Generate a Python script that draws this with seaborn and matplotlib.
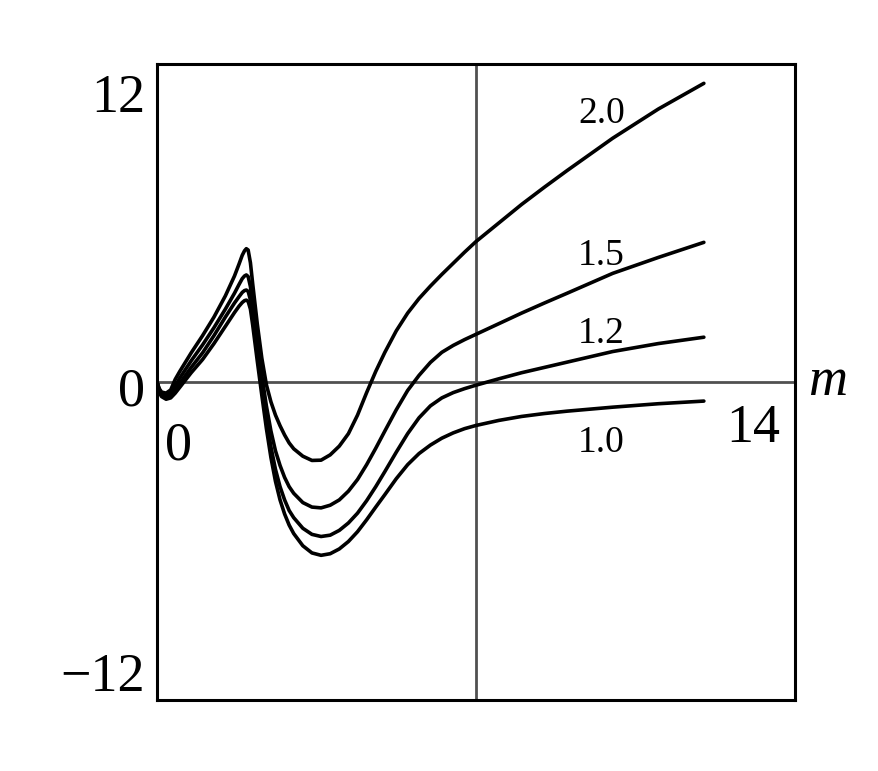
import matplotlib
matplotlib.use("Agg")
import matplotlib.pyplot as plt
import seaborn as sns
import pandas as pd

# sample points along m
m = [0, 0.05, 0.1, 0.2, 0.3, 0.4, 0.5, 0.75, 1.0, 1.25, 1.5, 1.7, 1.8, 1.87, 1.92, 1.96,
     2.0, 2.05, 2.1, 2.2, 2.3, 2.4, 2.5, 2.6, 2.7, 2.8, 2.9, 3.0, 3.2, 3.4, 3.6, 3.8,
     4.0, 4.2, 4.4, 4.6, 4.8, 5.0, 5.25, 5.5, 5.75, 6.0, 6.25, 6.5, 6.75, 7.0, 7.5,
     8.0, 8.5, 9.0, 10.0, 11.0, 12.0]

v_20 = [0, -0.25, -0.38, -0.42, -0.3, 0.1, 0.4, 1.1, 1.75, 2.45, 3.25, 4.0, 4.45, 4.78, 4.95, 5.03,
        4.98, 4.5, 3.7, 2.2, 0.9, -0.1, -0.75, -1.25, -1.65, -2.0, -2.3, -2.52, -2.8, -2.96, -2.95, -2.75,
        -2.42, -1.95, -1.25, -0.4, 0.4, 1.12, 1.93, 2.6, 3.15, 3.62, 4.06, 4.48, 4.9, 5.3, 6.0,
        6.7, 7.35, 7.98, 9.2, 10.3, 11.27]
v_15 = [0, -0.3, -0.42, -0.5, -0.4, -0.15, 0.15, 0.8, 1.4, 2.05, 2.75, 3.35, 3.68, 3.9, 4.0, 4.04,
        3.98, 3.6, 2.9, 1.5, 0.25, -0.9, -1.85, -2.6, -3.15, -3.6, -3.95, -4.2, -4.55, -4.72, -4.75, -4.65,
        -4.45, -4.12, -3.68, -3.12, -2.5, -1.85, -1.05, -0.32, 0.25, 0.74, 1.12, 1.38, 1.6, 1.8, 2.2,
        2.6, 2.98, 3.35, 4.1, 4.7, 5.27]
v_12 = [0, -0.35, -0.48, -0.58, -0.5, -0.28, -0.05, 0.55, 1.1, 1.75, 2.45, 2.98, 3.22, 3.38, 3.45, 3.47,
        3.42, 3.1, 2.45, 1.1, -0.2, -1.4, -2.45, -3.3, -3.95, -4.45, -4.85, -5.12, -5.52, -5.75, -5.83, -5.78,
        -5.6, -5.32, -4.95, -4.48, -3.95, -3.38, -2.65, -1.95, -1.35, -0.9, -0.6, -0.4, -0.25, -0.12, 0.12,
        0.35, 0.55, 0.75, 1.15, 1.45, 1.69]
v_10 = [0, -0.4, -0.55, -0.65, -0.6, -0.42, -0.2, 0.35, 0.85, 1.45, 2.1, 2.62, 2.86, 3.0, 3.07, 3.09,
        3.04, 2.75, 2.15, 0.8, -0.5, -1.75, -2.85, -3.75, -4.45, -4.98, -5.4, -5.72, -6.18, -6.45, -6.54, -6.48,
        -6.3, -6.02, -5.65, -5.2, -4.72, -4.25, -3.65, -3.12, -2.7, -2.38, -2.12, -1.92, -1.76, -1.64, -1.45,
        -1.3, -1.19, -1.1, -0.95, -0.82, -0.72]

curve_names = ["2.0", "1.5", "1.2", "1.0"]
curve_values = [v_20, v_15, v_12, v_10]

# label positions (left edge, baseline) in data units
label_m = [9.24, 9.24, 9.24, 9.24]
label_y = [9.77, 4.42, 1.47, -2.64]

rows = []
for name, vals in zip(curve_names, curve_values):
    for mm, vv in zip(m, vals):
        rows.append({"m": mm, "v": vv, "curve": name})
df = pd.DataFrame(rows)

sns.set_style("white")
plt.rcParams["font.family"] = ["Liberation Serif", "DejaVu Serif"]
plt.rcParams["text.color"] = "black"

fig = plt.figure(figsize=(8.79, 7.71), dpi=100)
ax = fig.add_axes([157 / 879, 1 - 700 / 771, 638 / 879, 636 / 771])

sns.lineplot(data=df, x="m", y="v", hue="curve", palette=["black"] * 4,
             linewidth=2.6, legend=False, ax=ax, sort=False, estimator=None)

# cross lines through the middle of the box
ax.axhline(0, color="#505050", linewidth=2, zorder=1)
ax.axvline(7, color="#505050", linewidth=2, zorder=1)

ax.set_xlim(0, 14)
ax.set_ylim(-12, 12)
ax.set_xticks([])
ax.set_yticks([])
ax.set_xlabel("")
ax.set_ylabel("")
for s in ax.spines.values():
    s.set_color("black")
    s.set_linewidth(2.2)

# curve labels
for name, lx, ly in zip(curve_names, label_m, label_y):
    ax.text(lx, ly, name, fontsize=27, color="black", ha="left", va="baseline")

# axis numbers drawn as text, like the original
big = 39
ax.text(-0.26, 10.19, "12", fontsize=big, color="black", ha="right", va="baseline", clip_on=False)
ax.text(-0.26, -0.87, "0", fontsize=big, color="black", ha="right", va="baseline", clip_on=False)
ax.text(-0.26, -11.66, "\u221212", fontsize=big, color="black", ha="right", va="baseline", clip_on=False)
ax.text(0.18, -2.94, "0", fontsize=big, color="black", ha="left", va="baseline", clip_on=False)
ax.text(13.67, -2.26, "14", fontsize=big, color="black", ha="right", va="baseline", clip_on=False)
ax.text(14.29, -0.49, "m", fontsize=big, color="black", style="italic", ha="left", va="baseline", clip_on=False)

fig.savefig("out.png", dpi=100)
